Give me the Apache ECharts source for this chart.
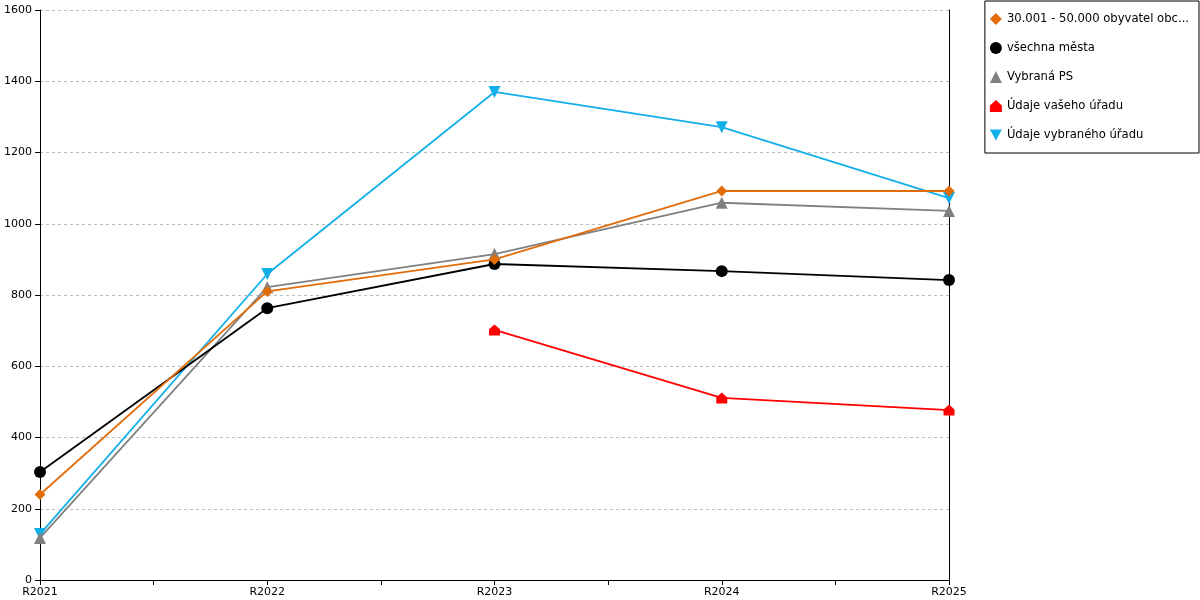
<!DOCTYPE html>
<html><head><meta charset="utf-8">
<script src="https://cdn.jsdelivr.net/npm/echarts@6/dist/echarts.min.js"></script>
<style>html,body{margin:0;padding:0;background:#fff}#c{width:1200px;height:600px}</style>
</head><body><div id="c"></div>
<script>
const categories = ['R2021','R2022','R2023','R2024','R2025'];
const seriesNames = ['30.001 - 50.000 obyvatel obc...','všechna města','Vybraná PS','Údaje vašeho úřadu','Údaje vybraného úřadu'];
const obyvatel = [240, 810, 900, 1092, 1092];
const vsechnaMesta = [303, 763, 887, 867, 842];
const vybranaPS = [118, 822, 915, 1059, 1036];
const vasUrad = [null, null, 702, 511, 477];
const vybranyUrad = [129, 859, 1370, 1271, 1072];
const yTicks = {min: 0, max: 1600, interval: 200};

const house = 'path://M5,0 L10,4.5 L10,10 L0,10 L0,4.5 Z';
const invTri = 'path://M0,0 L10,0 L5,9 Z';
const colors = ['#e36c0a', '#000000', '#808080', '#ff0000', '#13afe9'];
const symbols = ['diamond', 'circle', 'triangle', house, invTri];
const sizes = [11, 12, 12, 11, 12];
const datas = [obyvatel, vsechnaMesta, vybranaPS, vasUrad, vybranyUrad];

const font = 'DejaVu Sans';
const chart = echarts.init(document.getElementById('c'));
chart.setOption({
  animation: false,
  textStyle: {fontFamily: font},
  grid: {left: 40, right: 251, top: 10, bottom: 20, containLabel: false},
  legend: {
    orient: 'vertical', right: 1, top: 1,
    borderColor: '#000', borderWidth: 1,
    padding: [12, 10, 12, 5],
    itemWidth: 12, itemHeight: 12, itemGap: 17,
    textStyle: {fontFamily: font, fontSize: 11.6, color: '#000'},
    data: seriesNames.map((n, i) => ({name: n, icon: symbols[i], itemStyle: {color: colors[i]}}))
  },
  xAxis: [{
    type: 'category', data: categories, boundaryGap: false,
    axisLine: {lineStyle: {color: '#000', width: 1}},
    axisTick: {show: false},
    axisLabel: {color: '#000', fontSize: 11, margin: 7, fontFamily: font}
  }, {
    type: 'value', min: 0, max: 8, interval: 1, position: 'bottom',
    axisLine: {show: false},
    axisTick: {show: true, length: 5, lineStyle: {color: '#000'}},
    axisLabel: {show: false}, splitLine: {show: false}
  }],
  yAxis: [{
    type: 'value', min: yTicks.min, max: yTicks.max, interval: yTicks.interval,
    axisLine: {show: true, lineStyle: {color: '#000'}},
    axisTick: {show: true, length: 5, lineStyle: {color: '#000'}},
    axisLabel: {color: '#000', fontSize: 11, margin: 8, fontFamily: font, formatter: v => String(v)},
    splitLine: {show: true, lineStyle: {color: '#bdbdbd', type: [3, 3], width: 1}}
  }, {
    type: 'value', min: yTicks.min, max: yTicks.max, interval: yTicks.interval, position: 'right',
    axisLine: {show: true, lineStyle: {color: '#000'}},
    axisTick: {show: false}, axisLabel: {show: false}, splitLine: {show: false}
  }],
  series: seriesNames.map((n, i) => ({
    name: n, type: 'line', data: datas[i],
    symbol: symbols[i], symbolSize: sizes[i],
    showAllSymbol: true,
    color: colors[i],
    lineStyle: {color: colors[i], width: 1.8},
    itemStyle: {color: colors[i]},
    z: 10 - i
  }))
});
</script></body></html>
